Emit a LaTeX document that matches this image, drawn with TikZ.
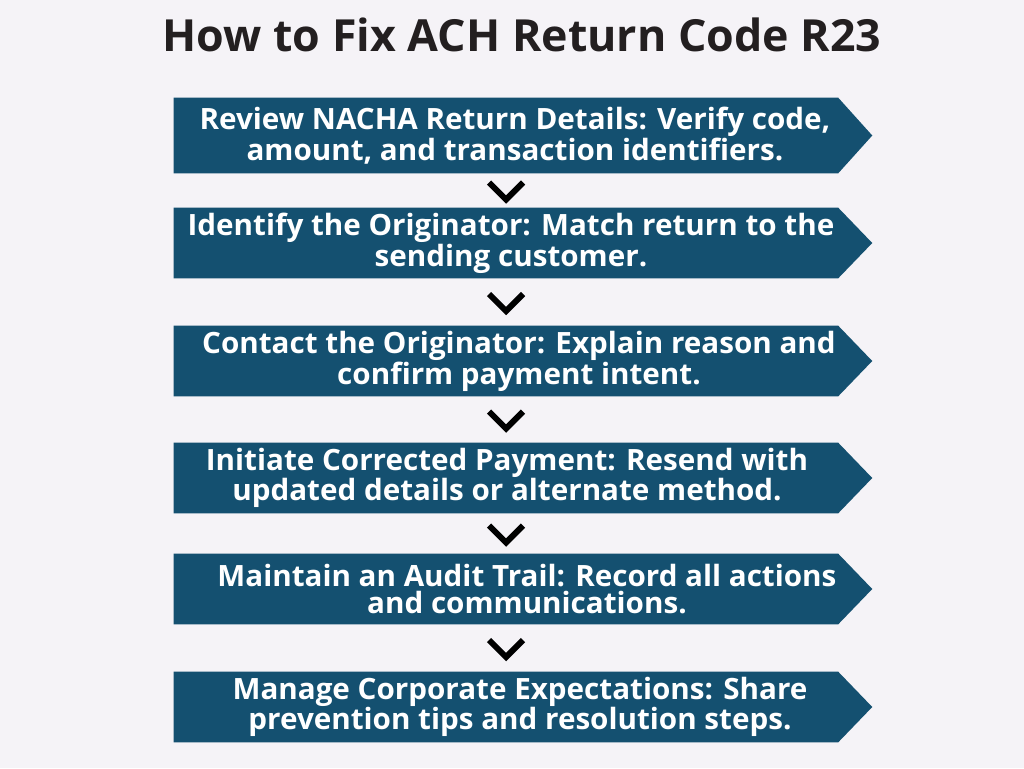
\documentclass[tikz,border=0pt]{standalone}
\usepackage{fontspec}
\setmainfont{Open Sans}[FakeStretch=1.01]
\usetikzlibrary{calc}
\definecolor{pagebg}{RGB}{245,243,247}
\definecolor{stepblue}{RGB}{20,80,112}
\definecolor{titleink}{RGB}{35,31,32}
\begin{document}
\begin{tikzpicture}[
    x=0.75pt, y=-0.75pt,
    every node/.style={font=\bfseries, align=center},
    stepbox/.style={rectangle, inner sep=0pt, minimum width=498pt, minimum height=#1},
    steptext/.style={text=white, font=\bfseries\fontsize{22}{20.5}\selectfont},
    chev/.style={line width=4.5pt, black, line join=miter}
]
\fill[pagebg] (0,0) rectangle (1024,768);
\useasboundingbox (0,0) rectangle (1024,768);

\node[text=titleink, font=\bfseries\fontsize{33.2}{38}\selectfont] (title) at (522,35) {How to Fix ACH Return Code R23};

% steps: index / centre y / height / text shift / text
\foreach \i/\y/\h/\dx/\txt in {
    1/135.5/56.25pt/9/{Review NACHA Return Details: Verify code,\\amount, and transaction identifiers.},
    2/243/52.5pt/5/{Identify the Originator: Match return to the\\sending customer.},
    3/361/52.5pt/13/{Contact the Originator: Explain reason and\\confirm payment intent.},
    4/478/52.5pt/1/{Initiate Corrected Payment: Resend with\\updated details or alternate method.},
    5/589/52.5pt/21/{Maintain an Audit Trail: Record all actions\\and communications.},
    6/707/52.5pt/14/{Manage Corporate Expectations: Share\\prevention tips and resolution steps.}}{
  \node[stepbox=\h] (box\i) at (506,\y) {};
  \fill[stepblue] (box\i.north west) -- (box\i.north east) -- ([xshift=25.5pt]box\i.east)
    -- (box\i.south east) -- (box\i.south west) -- cycle;
  \node[steptext] (txt\i) at ([xshift=\dx*0.75pt]box\i.center) {\txt};
}

% chevrons between the steps
\foreach \i/\j in {1/2, 2/3, 3/4, 4/5, 5/6}{
  \coordinate (mid\i) at ($(box\i.south)!0.5!(box\j.north)$);
  \draw[chev] ([shift={(-17,-8)}]mid\i) -- ([shift={(0,9)}]mid\i) -- ([shift={(17,-8)}]mid\i);
}
\end{tikzpicture}
\end{document}
